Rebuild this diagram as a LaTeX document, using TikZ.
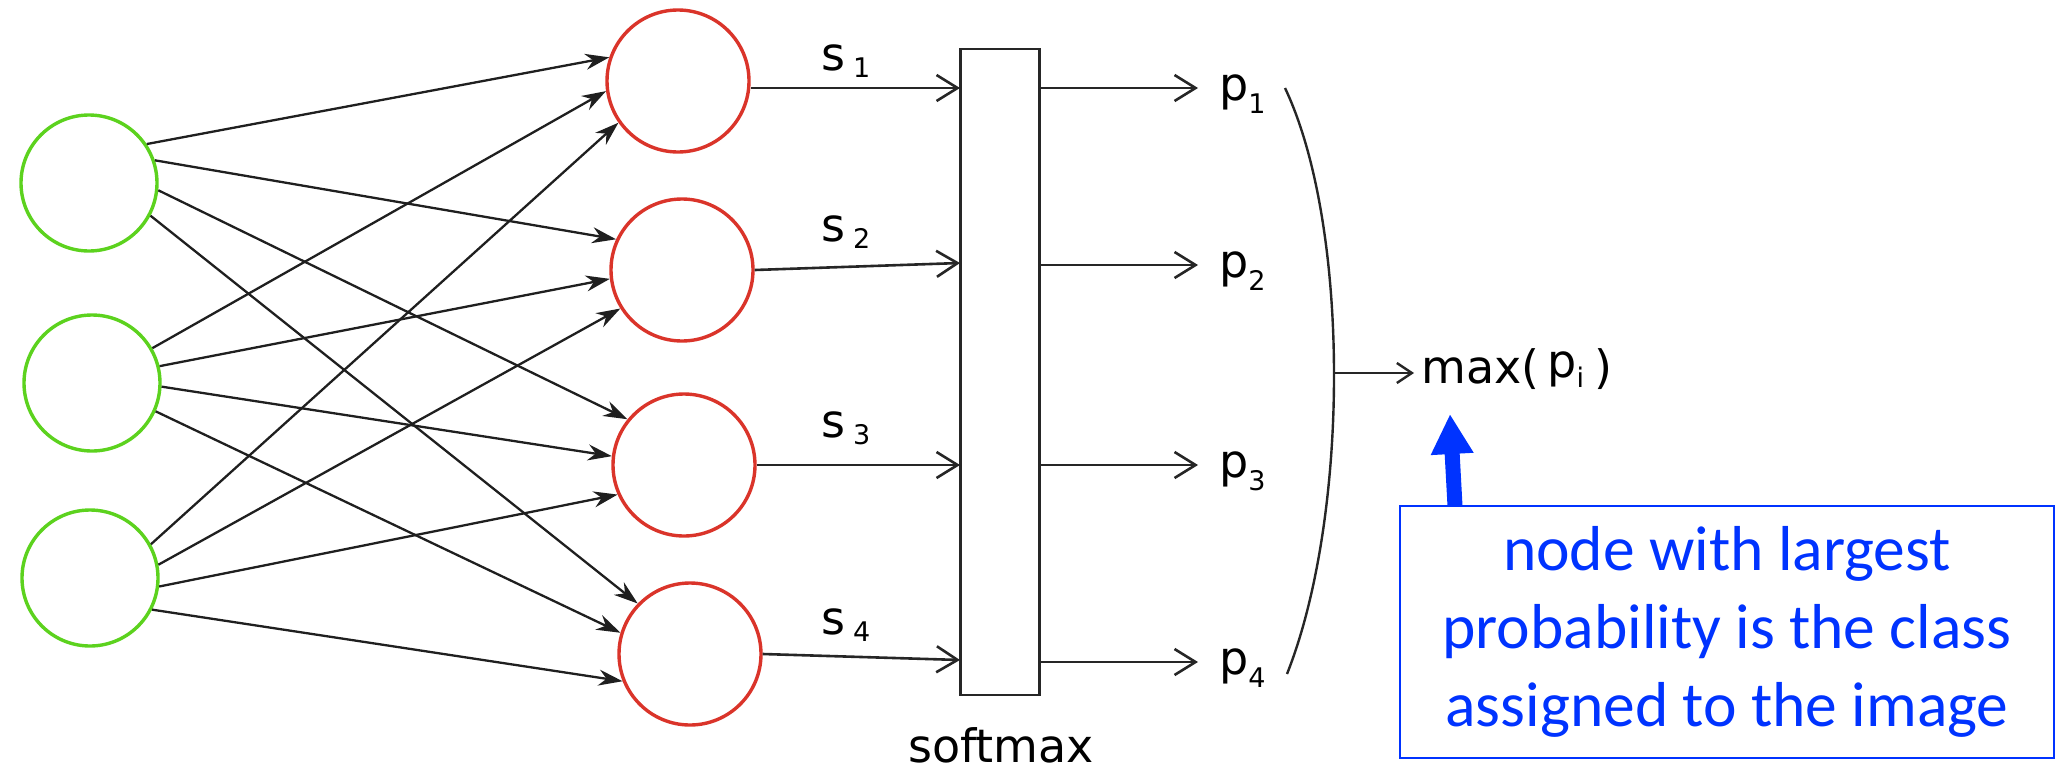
\documentclass[tikz,border=0pt]{standalone}
\usepackage{fontspec}
\setmainfont{DejaVu Sans}
\newfontfamily\calib{Carlito}
\usetikzlibrary{arrows.meta}
\definecolor{ngreen}{RGB}{92,210,30}
\definecolor{nred}{RGB}{218,52,42}
\definecolor{nblue}{RGB}{0,51,255}
\newcommand{\subs}[2]{\raisebox{#1}{\fontsize{27}{27}\selectfont #2}}
\begin{document}
\begin{tikzpicture}[x=1pt,y=-1pt,
  gcirc/.style={circle,draw=ngreen,line width=3.4pt,minimum size=136pt,inner sep=0pt},
  rcirc/.style={circle,draw=nred,line width=3.4pt,minimum size=142pt,inner sep=0pt},
  edge/.style={draw=black!88,line width=2.3pt,-{Stealth[length=24pt,width=16pt]}},
  sarr/.style={draw=black!85,line width=2.6pt,-{Straight Barb[length=21pt,width=26pt,line width=2.6pt]}},
  sarrs/.style={draw=black!85,line width=2.4pt,-{Straight Barb[length=15pt,width=20pt,line width=2.4pt]}},
  lab/.style={inner sep=0pt,font=\fontsize{46}{46}\selectfont},
  ]
\useasboundingbox (0,0) rectangle (2062,769);

% input layer
\node[gcirc] (g1) at (89,183) {};
\node[gcirc] (g2) at (92,383) {};
\node[gcirc] (g3) at (90,578) {};
% output layer
\node[rcirc] (r1) at (678,81) {};
\node[rcirc] (r2) at (682,270) {};
\node[rcirc] (r3) at (684,465) {};
\node[rcirc] (r4) at (690,654) {};

% connections
\draw[edge] (g1.34.8) -- (r1.161);
\draw[edge] (g1.19) -- (r2.155);
\draw[edge] (g1.-6.5) -- (r3.141);
\draw[edge] (g1.-28) -- (r4.136);
\draw[edge] (g2.30.5) -- (r1.188);
\draw[edge] (g2.14.6) -- (r2.187);
\draw[edge] (g2.-3) -- (r3.173);
\draw[edge] (g2.-24) -- (r4.163);
\draw[edge] (g3.29) -- (r1.215);
\draw[edge] (g3.11) -- (r2.212);
\draw[edge] (g3.-7) -- (r3.204);
\draw[edge] (g3.-27) -- (r4.202);

% softmax box
\node[draw=black!85,line width=2.7pt,minimum width=79pt,minimum height=646pt,inner sep=0pt] (sm) at (1000,372) {};
\node[lab,anchor=base] (smlab) at (1001,762) {softmax};

\coordinate (in1) at (960,88);
\coordinate (in2) at (960,263);
\coordinate (in3) at (960,465);
\coordinate (in4) at (960,660);
\draw[sarr] (r1.east |- in1) -- (in1);
\draw[sarr] (r2.east) -- (in2);
\draw[sarr] (r3.east |- in3) -- (in3);
\draw[sarr] (r4.east) -- (in4);

\node[lab,anchor=base west] (s1) at (821,70) {s\kern8pt\subs{-7pt}{1}};
\node[lab,anchor=base west] (s2) at (821,241) {s\kern8pt\subs{-7pt}{2}};
\node[lab,anchor=base west] (s3) at (821,437) {s\kern8pt\subs{-7pt}{3}};
\node[lab,anchor=base west] (s4) at (821,634) {s\kern8pt\subs{-7pt}{4}};

% probabilities
\node[lab,anchor=base west] (p1) at (1219,100) {p\subs{-13pt}{1}};
\node[lab,anchor=base west] (p2) at (1219,277) {p\subs{-13pt}{2}};
\node[lab,anchor=base west] (p3) at (1219,477) {p\subs{-13pt}{3}};
\node[lab,anchor=base west] (p4) at (1219,674) {p\subs{-13pt}{4}};

\coordinate (o1) at (1198,88);
\coordinate (o2) at (1198,265);
\coordinate (o3) at (1198,465);
\coordinate (o4) at (1198,662);
\draw[sarr] (sm.east |- o1) -- (o1);
\draw[sarr] (sm.east |- o2) -- (o2);
\draw[sarr] (sm.east |- o3) -- (o3);
\draw[sarr] (sm.east |- o4) -- (o4);

% bracket curve
\draw[black!85,line width=2.4pt] (1285,88) .. controls (1350,225) and (1350,515) .. (1287,674);
\coordinate (cm) at (1334,373);

\node[lab,anchor=base west] (mx) at (1421,383) {max(\kern8pt\raisebox{6pt}{p}\subs{-4pt}{i}\kern10pt)};
\draw[sarrs,shorten >=7pt] (cm) -- (cm -| mx.west);

% annotation
\node[draw=nblue,line width=2pt,text=nblue,minimum width=654pt,minimum height=252pt,inner sep=0pt,align=center,font=\calib\fontsize{63.5}{78}\selectfont] (note) at (1727,632) {node with largest\\probability is the class\\assigned to the image};
\coordinate (bs) at (1455,506);
\coordinate (bt) at (1450,414);
\draw[nblue,line width=15pt,-{Triangle[length=40pt,width=40pt]}] (bs) -- (bt);
\end{tikzpicture}
\end{document}
